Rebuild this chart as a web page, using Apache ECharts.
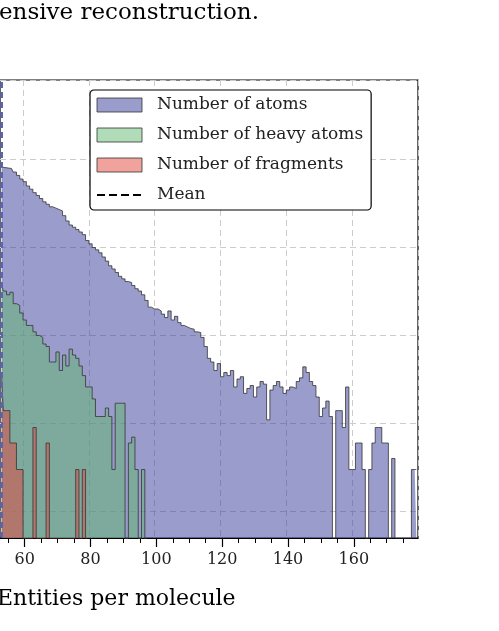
<!DOCTYPE html>
<html><head><meta charset="utf-8">
<script src="https://cdn.jsdelivr.net/npm/echarts@6/dist/echarts.min.js"></script>
<style>html,body{margin:0;padding:0;background:#fff}#c{width:499px;height:631px}</style>
</head><body><div id="c"></div>
<script>
const startValue = 53;
const atoms = [
8200,8100,8000,7900,7200,6600,6000,5600,5000,4600,
4200,3900,3600,3300,3100,2900,2800,2700,2600,2300,
2000,1800,1700,1600,1500,1400,1200,1100,1000,940,
870,780,700,620,570,520,470,440,410,400,
370,340,320,290,250,210,200,200,190,175,
160,190,150,165,140,130,125,120,118,110,
108,95,75,55,50,40,48,34,38,35,
40,26,32,34,22,25,27,20,26,30,
28,11,24,27,30,26,22,24,26,25,
30,33,44,38,30,27,20,12,15,18,
12,
0.01,14,14,9,26,3,3,6,6,3,
0.01,3,6,9,9,6,6,0.01,4,0.01,
0.01,0.01,0.01,0.01,3,3];
const heavy = [
380,320,290,310,230,220,180,150,130,130,
110,100,95,80,75,50,50,65,40,60,
45,70,60,55,45,35,26,26,19,12,
12,12,15,12,3,17,17,17,0.01,6,
7,3,0.01,3,0.01];
const fragments = [33,14,14,6,6,3,3,0.01,0.01,0.01,9,0.01,0.01,0.01,6,
0.01,0.01,0.01,0.01,0.01,0.01,0.01,0.01,3,0.01,3,0.01];
const meanValue = '53';
const tickLabels = [60,80,100,120,140,160];

const cats = atoms.map((_, i) => String(startValue + i));
const serif = 'DejaVu Serif';
const chart = echarts.init(document.getElementById('c'));
const lineStroke = {color:'#333', width:0.8};
function hist(name, data, fill, z){
  return {name, type:'line', data, step:'middle', symbol:'none', z,
    xAxisIndex:0, lineStyle:lineStroke, itemStyle:{color:fill},
    areaStyle:{color:fill, opacity:1, origin:'start'}, connectNulls:false, animation:false};
}
chart.setOption({
  animation:false,
  grid:{left:0, right:81, top:80, bottom:93, show:true, borderColor:'#000', borderWidth:1.2},
  graphic:[
    {type:'text', left:-1, top:2, style:{text:'ensive reconstruction.', font:'23px "'+serif+'"', fill:'#000'}},
    {type:'text', left:-3, top:588, style:{text:'Entities per molecule', font:'22px "'+serif+'"', fill:'#000'}}
  ],
  legend:{left:90, top:90, orient:'vertical', backgroundColor:'#fff', borderColor:'#000', borderWidth:1.2,
    borderRadius:4, padding:[6,8,6,6], itemGap:12, itemWidth:45, itemHeight:14,
    textStyle:{fontFamily:serif, fontSize:17, color:'#222', lineHeight:18, padding:[0,0,0,10]},
    data:[
      {name:'Number of atoms', icon:'rect', itemStyle:{color:'rgba(54,57,153,0.5)', borderColor:'#333', borderWidth:0.8}},
      {name:'Number of heavy atoms', icon:'rect', itemStyle:{color:'rgba(99,185,114,0.5)', borderColor:'#333', borderWidth:0.8}},
      {name:'Number of fragments', icon:'rect', itemStyle:{color:'rgba(230,70,60,0.5)', borderColor:'#333', borderWidth:0.8}},
      {name:'Mean', itemStyle:{opacity:0}}
    ]},
  xAxis:[
    {type:'category', data:cats, boundaryGap:true, position:'bottom',
      axisLine:{show:true, lineStyle:{color:'#000', width:1.2}},
      axisTick:{show:true, alignWithLabel:true, length:5, lineStyle:{color:'#000'},
        interval:(i,v)=>(+v)%5===0 && (+v)%20!==0},
      axisLabel:{show:false}, splitLine:{show:false}},
    {type:'category', data:cats, boundaryGap:true, position:'bottom',
      axisLine:{show:false},
      axisTick:{show:true, alignWithLabel:true, length:9, lineStyle:{color:'#000', width:1.2},
        interval:(i,v)=>tickLabels.includes(+v)},
      axisLabel:{show:true, fontFamily:serif, fontSize:16, color:'#222', margin:14,
        interval:(i,v)=>tickLabels.includes(+v)},
      splitLine:{show:true, interval:(i,v)=>tickLabels.includes(+v),
        lineStyle:{color:'#ccc', type:[6,4], width:1}}}
  ],
  yAxis:{type:'log', logBase:10, min:0.5, max:80000,
    axisLine:{show:false}, axisTick:{show:false}, axisLabel:{show:false},
    splitLine:{show:true, lineStyle:{color:'#ccc', type:[6,4], width:1}}},
  series:[
    Object.assign(hist('Number of atoms', atoms, 'rgba(54,57,153,0.5)', 2), {
      markLine:{symbol:'none', silent:true, label:{show:false},
        lineStyle:{color:'#5a62c0', type:[6,4], width:2},
        data:[{xAxis:meanValue}]}}),
    hist('Number of heavy atoms', heavy, 'rgba(99,185,114,0.5)', 3),
    hist('Number of fragments', fragments, 'rgba(230,70,60,0.5)', 4),
    {name:'Mean', type:'line', data:[], symbol:'none', lineStyle:{color:'#000', type:'dashed', width:1.5}, itemStyle:{color:'#000'}}
  ]
});
</script></body></html>
